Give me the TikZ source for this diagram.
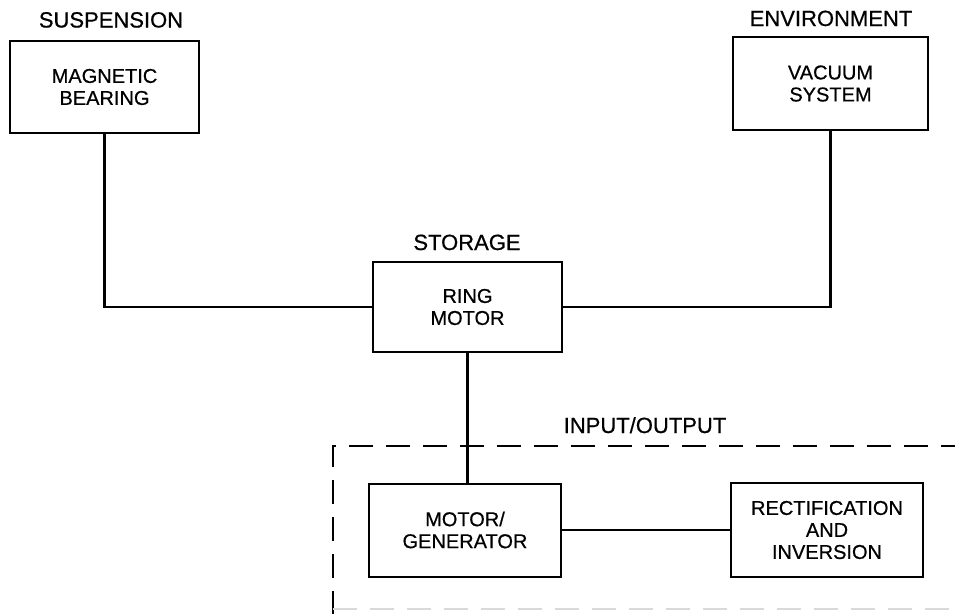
\documentclass[tikz,border=0pt]{standalone}
\usepackage{fontspec}
\setmainfont[FakeBold=0.6]{Liberation Sans}
\begin{document}
\begin{tikzpicture}[x=1pt,y=-1pt,
  blk/.style={draw, line width=2pt, rectangle, align=center, inner sep=0pt,
    font=\fontsize{20}{22}\selectfont},
  lbl/.style={anchor=base, inner sep=0pt, font=\fontsize{22}{24}\selectfont},
  wire/.style={line width=2.8pt},
  group/.style={line width=2.6pt, dash pattern=on 24pt off 13pt}]
\useasboundingbox (0,0) rectangle (955,613);
\clip (0,0) rectangle (955,613);
% blocks
\node[blk, minimum width=189pt, minimum height=92pt] (mag) at (104.5,87) {MAGNETIC\\BEARING};
\node[blk, minimum width=195pt, minimum height=93pt] (vac) at (830.5,83.5) {VACUUM\\SYSTEM};
\node[blk, minimum width=189pt, minimum height=90pt] (ring) at (467.5,307) {RING\\MOTOR};
\node[blk, minimum width=192pt, minimum height=93pt] (mg) at (465,530) {MOTOR/\\GENERATOR};
\node[blk, minimum width=192pt, minimum height=94pt] (rect) at (827,530) {RECTIFICATION\\AND\\INVERSION};
% labels
\node[lbl] (lsusp) at (111,27.5) {SUSPENSION};
\node[lbl] (lenv) at (831,26) {ENVIRONMENT};
\node[lbl] (lstor) at (467,250) {STORAGE};
\node[lbl] (lio) at (645,433) {INPUT/OUTPUT};
% group boundary
\coordinate (gtr) at (965,446);
\coordinate (gtl) at (333,446);
\coordinate (gbl) at (333,625);
\coordinate (gbl2) at (333,609);
\coordinate (gbr) at (965,609);
\draw[group] (gtr) -- (gtl) -- (gbl);
\draw[group, gray!30] (gbl2) -- (gbr);
% connectors
\draw[wire] (mag.south) |- (ring.west);
\draw[wire] (vac.south) |- (ring.east);
\draw[wire] (ring.south) -- (ring.south |- mg.north);
\draw[wire] (mg.east) -- (mg.east -| rect.west);
\end{tikzpicture}
\end{document}
